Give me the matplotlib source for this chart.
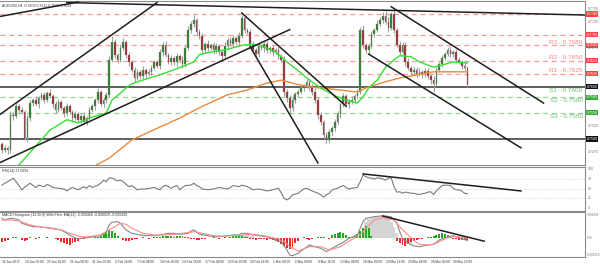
import matplotlib.pyplot as plt

plt.rcParams['font.family'] = ['Liberation Sans', 'DejaVu Sans']

# ---------------- data (AUDUSD H4, bars merged in pairs) ----------------
first_open = 0.7490
closes = [
    0.7479, 0.7483, 0.7479, 0.7546, 0.7544, 0.7563, 0.7556, 0.7552, 0.7502, 0.7540,
    0.7569, 0.7575, 0.7567, 0.7579, 0.7585, 0.7575, 0.7588, 0.7583, 0.7567, 0.7556,
    0.7571, 0.7560, 0.7550, 0.7563, 0.7552, 0.7540, 0.7548, 0.7537, 0.7544, 0.7533,
    0.7540, 0.7556, 0.7563, 0.7575, 0.7590, 0.7567, 0.7575, 0.7585, 0.7652, 0.7687,
    0.7662, 0.7652, 0.7675, 0.7687, 0.7662, 0.7648, 0.7633, 0.7617, 0.7629, 0.7621,
    0.7633, 0.7625, 0.7629, 0.7637, 0.7648, 0.7640, 0.7667, 0.7681, 0.7662, 0.7648,
    0.7656, 0.7648, 0.7660, 0.7652, 0.7644, 0.7675, 0.7710, 0.7721, 0.7729, 0.7706,
    0.7698, 0.7671, 0.7683, 0.7675, 0.7681, 0.7671, 0.7679, 0.7667, 0.7660, 0.7679,
    0.7690, 0.7683, 0.7694, 0.7687, 0.7698, 0.7733, 0.7710, 0.7706, 0.7683, 0.7671,
    0.7663, 0.7679, 0.7675, 0.7683, 0.7671, 0.7675, 0.7667, 0.7671, 0.7660, 0.7652,
    0.7590, 0.7579, 0.7560, 0.7575, 0.7587, 0.7590, 0.7598, 0.7602, 0.7610, 0.7602,
    0.7590, 0.7575, 0.7546, 0.7533, 0.7508, 0.7498, 0.7513, 0.7521, 0.7533, 0.7548,
    0.7567, 0.7583, 0.7567, 0.7571, 0.7575, 0.7583, 0.7590, 0.7710, 0.7681, 0.7671,
    0.7679, 0.7702, 0.7710, 0.7721, 0.7729, 0.7737, 0.7725, 0.7713, 0.7740, 0.7710,
    0.7681, 0.7667, 0.7681, 0.7648, 0.7637, 0.7629, 0.7633, 0.7625, 0.7629, 0.7625,
    0.7631, 0.7621, 0.7613, 0.7606, 0.7633, 0.7644, 0.7656, 0.7663, 0.7671, 0.7663,
    0.7667, 0.7652, 0.7648, 0.7640, 0.7637, 0.7604,
]
# wick lengths beyond the body, in pips
wick_hi = [
    4, 6, 3, 8, 5, 7, 4, 5, 3, 6,
    5, 4, 7, 3, 6, 5, 4, 8, 3, 5,
    6, 4, 3, 7, 5, 4, 6, 3, 5, 8,
    4, 6, 5, 3, 7, 4, 5, 6, 8, 10,
    5, 4, 7, 6, 3, 5, 4, 6, 5, 3,
    7, 4, 5, 6, 4, 3, 6, 5, 7, 4,
    5, 3, 6, 4, 8, 5, 7, 6, 9, 4,
    6, 5, 4, 7, 3, 5, 6, 4, 5, 7,
    4, 6, 5, 3, 8, 5, 5, 4, 6, 5,
    3, 7, 4, 5, 6, 4, 5, 3, 6, 4,
    8, 6, 5, 7, 4, 6, 5, 3, 5, 6,
    4, 7, 5, 6, 4, 5, 7, 4, 6, 5,
    3, 6, 4, 5, 7, 4, 6, 6, 8, 4,
    5, 6, 4, 7, 5, 6, 8, 9, 4, 5,
    4, 7, 6, 5, 8, 4, 6, 5, 7, 4,
    6, 5, 4, 7, 5, 3, 6, 4, 5, 7,
    4, 6, 5, 3, 7, 4,
]
wick_lo = [
    6, 4, 7, 5, 8, 4, 6, 5, 4, 7,
    5, 6, 4, 8, 5, 6, 4, 5, 7, 6,
    4, 5, 8, 6, 5, 7, 4, 6, 8, 5,
    6, 4, 5, 7, 6, 4, 5, 6, 4, 5,
    7, 6, 4, 5, 6, 7, 5, 8, 4, 6,
    5, 7, 4, 6, 5, 4, 6, 7, 5, 4,
    6, 5, 7, 4, 8, 5, 4, 6, 5, 7,
    6, 8, 5, 6, 4, 7, 5, 6, 8, 5,
    6, 4, 7, 5, 6, 4, 6, 5, 7, 6,
    5, 6, 4, 8, 5, 6, 7, 4, 6, 5,
    7, 8, 10, 6, 5, 7, 4, 6, 5, 7,
    6, 5, 8, 7, 6, 6, 5, 7, 6, 5,
    8, 6, 5, 7, 4, 6, 5, 4, 6, 5,
    7, 4, 6, 5, 4, 6, 5, 7, 4, 6,
    5, 6, 4, 7, 5, 6, 4, 6, 5, 7,
    6, 5, 7, 16, 5, 4, 6, 5, 4, 6,
    5, 7, 4, 6, 5, 4,
]

green_ma_idx = [6, 17, 23, 27, 32, 37, 39, 42, 44, 46, 51, 56, 63, 68, 70, 74, 79, 86, 91,
                97, 101, 106, 109, 113, 118, 122, 126, 128, 130, 133, 136, 139, 141, 145,
                148, 153, 156, 160, 165]
green_ma = [0.7450, 0.7517, 0.7537, 0.7531, 0.7542, 0.7550, 0.7575, 0.7588, 0.7598, 0.7606,
            0.7615, 0.7623, 0.7637, 0.7648, 0.7662, 0.7667, 0.7671, 0.7681, 0.7681,
            0.7667, 0.7648, 0.7627, 0.7613, 0.7598, 0.7583, 0.7575, 0.7569, 0.7581, 0.7598,
            0.7613, 0.7638, 0.7652, 0.7660, 0.7658, 0.7648, 0.7638, 0.7642, 0.7648, 0.7646]
orange_ma_idx = [30, 38, 46, 56, 63, 70, 80, 87, 93, 99, 104, 109, 120, 126, 129, 136, 141,
                 153, 165]
orange_ma = [0.7440, 0.7463, 0.7498, 0.7523, 0.7540, 0.7560, 0.7585, 0.7594, 0.7606, 0.7613,
             0.7606, 0.7600, 0.7594, 0.7590, 0.7598, 0.7610, 0.7617, 0.7629, 0.7629]

red_levels = [0.7740, 0.7700, 0.7680, 0.7650, 0.7625]
green_levels = [0.7580, 0.7550]
black_levels = [0.7600, 0.7500]
pivot_names = ["R3", "R2", "R1", "S1", "S2", "S3"]
pivot_values = [0.7680, 0.7650, 0.7625, 0.7600, 0.7580, 0.7550]
price_ticks = [0.7750, 0.7725, 0.7675, 0.7525, 0.7475]

# trendlines: (bar, price) -> (bar, price)
trendlines = [
    ((-1, 0.7735), (27, 0.7763)),
    ((23, 0.7762), (207, 0.7738)),
    ((-1, 0.7546), (55, 0.7762)),
    ((-1, 0.7454), (102, 0.7710)),
    ((88, 0.7677), (112, 0.7454)),
    ((85, 0.7742), (122, 0.7563)),
    ((138, 0.7754), (192, 0.7569)),
    ((130, 0.7663), (184, 0.7483)),
]

rsi_idx = [0, 1, 3, 4, 5, 6, 7, 9, 10, 11, 12, 13, 15, 16, 17, 18, 20, 22, 23, 24, 25, 27,
           28, 29, 30, 31, 32, 34, 35, 36, 37, 38, 39, 41, 42, 43, 44, 45, 46, 48, 49, 51,
           54, 56, 57, 58, 60, 61, 62, 63, 64, 65, 67, 68, 69, 70, 71, 73, 75, 77, 80, 82,
           84, 85, 87, 89, 91, 94, 96, 98, 99, 100, 101, 102, 103, 105, 106, 107, 108, 109,
           110, 112, 113, 114, 115, 116, 117, 119, 120, 121, 122, 123, 124, 126, 127, 128,
           129, 130, 131, 132, 133, 134, 135, 136, 137, 138, 139, 140, 141, 142, 143, 144,
           145, 146, 147, 148, 149, 150, 151, 152, 153, 154, 155, 156, 157, 158, 159, 160,
           161, 162, 163, 164, 165]
rsi_val = [59, 64, 72, 77, 68, 58, 47, 59, 64, 58, 53, 59, 55, 61, 58, 53, 51, 49, 44, 49,
           53, 47, 51, 55, 51, 58, 53, 59, 64, 72, 68, 78, 77, 70, 72, 68, 61, 55, 58, 47,
           49, 49, 53, 47, 55, 59, 51, 55, 58, 47, 53, 58, 59, 64, 58, 55, 49, 47, 49, 53,
           49, 58, 55, 59, 55, 47, 49, 44, 47, 51, 39, 25, 21, 25, 34, 38, 44, 49, 51, 47,
           44, 38, 34, 28, 34, 38, 47, 51, 55, 58, 53, 49, 51, 53, 68, 85,
           81, 78, 77, 75, 78, 77, 75, 72, 77, 78, 55, 41, 42, 38, 41, 40,
           38, 38, 36, 35, 37, 38, 41, 42, 35, 44, 51, 58, 59, 59, 58, 51,
           47, 47, 44, 38, 37]
rsi_trend = ((128, 88), (184, 44))
rsi_levels = [75, 50, 25]

# MACD values in units of 0.0001
macd_idx = [0, 1, 3, 5, 6, 7, 9, 11, 13, 16, 18, 21, 23, 25, 27, 28, 30, 32, 35, 37, 38, 39,
            41, 42, 43, 44, 46, 49, 51, 54, 56, 59, 61, 63, 66, 67, 68, 69, 70, 73, 75, 77,
            80, 82, 84, 85, 87, 89, 91, 94, 96, 99, 101, 102, 103, 105, 106, 109, 113, 115,
            117, 121, 123, 126, 127, 128, 129, 132, 135, 138, 140, 141, 142, 144, 146, 148,
            151, 153, 155, 158, 160, 162, 165]
macd_val = [36.8, 33.7, 36.8, 35.5, 33.7, 27.5, 24.3, 21.1, 21.1, 19.3, 18.1, 15, 8.8, 2.4,
            -1.9, -0.6, 0.6, 2.4, 5.6, 11.8, 24.3, 29.4, 30.5, 27.5, 21.1, 15, 8.8, 5.6, 4.3,
            4.3, 5.6, 8.8, 8.8, 6.9, 8.8, 13.1, 15, 11.8, 6.9, 4.3, 2.4, 2.4, 4.3, 5.6, 5.6,
            8.8, 8.8, 5.6, 4.3, 2.4, -1.9, -6.9, -22.4, -31.8, -33.1, -28.6, -24.3, -13.1,
            -19.3, -25.6, -19.3, -8.0, -0.6, 5.6, 18.1, 30.5, 36.8, 39.8, 41.7, 39.8, 27.5,
            11.8, -0.6, -9.9, -15, -16.3, -13.1, -11.8, -3.7, 2.4, 4.3, 0.6, -4.7]
signal_idx = [0, 3, 6, 10, 13, 17, 21, 24, 28, 31, 35, 38, 42, 44, 46, 50, 54, 57, 61, 64, 68,
              71, 75, 78, 82, 85, 89, 93, 96, 100, 102, 105, 106, 109, 113, 116, 120, 123,
              127, 129, 132, 135, 139, 141, 144, 146, 148, 151, 153, 155, 158, 160, 162, 165]
signal_val = [33.7, 33.7, 31.8, 24.3, 21.1, 18.1, 15, 8.8, 2.4, 2.4, 5.6, 15, 27.5, 25.6, 18.1,
              8.8, 5.6, 5.6, 6.9, 8.8, 11.8, 8.8, 4.3, 3.7, 4.3, 5.6, 6.9, 4.3, 0.6, -5.6,
              -16.3, -24.3, -22.4, -16.3, -16.3, -22.4, -16.3, -5.6, 5.6, 18.1, 33.7, 38,
              33.7, 21.1, 5.6, -3.7, -11.8, -13.1, -11.8, -6.9, 0.6, 2.4, 2.4, -0.3]
hist = [
    -7, -6, -4, 0, 2, 2, 0, -3, -5, -4,
    1, 0, -1, 1, 0, 0, 1, 0, 0, -1,
    -4, -7, -9, -12, -13, -10, -8, -5, -2, -1,
    0, 1, 0, 1, 2, 4, 8, 12, 15, 13,
    9, 3, 0, -3, -5, -6, -4, -2, -1, 0,
    1, 0, -1, 0, 1, 2, 2, 3, 3, 4,
    3, 2, 3, 4, 3, 2, 1, -1, -2, -3,
    -3, -2, -1, 0, 0, 1, 0, -1, 0, 1,
    0, 2, 3, 4, 4, 3, 2, 1, -1, -2,
    -3, -2, -1, -2, -3, -2, -4, -6, -8, -12,
    -15, -18, -20, -16, -10, -5, 0, 2, -2, -4,
    -2, 0, 1, 2, 1, 0, -1, 5, 8, 10,
    11, 9, 6, 2, 1, 3, 8, 14, 18, 22,
    18, 4, 0, 0, 0, 0, 0, 0, 0, 0,
    -5, -10, -14, -15, -12, -8, -5, -3, -2, -1,
    0, 1, 2, 4, 6, 8, 9, 8, 6, 3,
    -1, -2, -3, -3, -4, -4,
]
grey_idx = [29, 30, 31, 32, 33, 34, 35, 36, 37,
            84, 85, 86, 87, 88, 89,
            129, 130, 131, 132, 133, 134, 135, 136, 137, 138, 139, 140, 141, 142, 143, 144, 145]
grey_val = [1, 1, 2, 2, 3, 4, 5, 6, 8,
            4, 6, 6, 5, 4, 3,
            30, 35, 38, 40, 42, 42, 40, 38, 36, 30, 20, 10, -2, -6, -8, -10, -12]
macd_trend = ((135, 41), (171, -6))
macd_ticks = [(43.0, "0.004296"), (0.0, "0.00"), (-32.0, "-0.003258")]

date_labels = ["16 Jan 2017", "19 Jan 00:00", "23 Jan 16:00", "26 Jan 08:00", "31 Jan 00:00",
               "2 Feb 16:00", "7 Feb 08:00", "10 Feb 00:00", "14 Feb 16:00", "17 Feb 08:00",
               "22 Feb 00:00", "24 Feb 16:00", "1 Mar 08:00", "6 Mar 00:00", "8 Mar 16:00",
               "13 Mar 08:00", "16 Mar 00:00", "20 Mar 16:00", "23 Mar 08:00", "28 Mar 00:00",
               "30 Mar 16:00"]
label_step = 8

# ---------------- figure ----------------
W, H = 600, 268
fig = plt.figure(figsize=(W / 100, H / 100), dpi=100)
fig.patch.set_facecolor('white')


def panel(top, bottom):
    return fig.add_axes([0, 1 - bottom / H, 585 / W, (bottom - top) / H])


ax = panel(1, 165)
ax_rsi = panel(167, 211)
ax_macd = panel(212, 257)

for a in (ax, ax_rsi, ax_macd):
    a.set_xlim(-0.7, 206.7)
    a.set_xticks([])
    a.set_yticks([])
    for s in a.spines.values():
        s.set_color('#8a8a8a')
        s.set_linewidth(0.8)
    a.spines['left'].set_visible(False)

# ---- main panel ----
ax.set_ylim(0.7450, 0.7765)
lab = ax.get_yaxis_transform()

for lv in red_levels:
    ax.axhline(lv, color='#ff9a9a', lw=0.9, dashes=(4, 3), zorder=1)
    ax.text(1.003, lv, f"{lv:.4f}", transform=lab, fontsize=2.6, color='white', va='center',
            ha='left', clip_on=False,
            bbox=dict(boxstyle='square,pad=0.15', fc='#ff4040', ec='none'))
for lv in green_levels:
    ax.axhline(lv, color='#9ccf9c', lw=0.9, dashes=(4, 3), zorder=1)
    ax.text(1.003, lv, f"{lv:.4f}", transform=lab, fontsize=2.6, color='white', va='center',
            ha='left', clip_on=False,
            bbox=dict(boxstyle='square,pad=0.15', fc='#2fae2f', ec='none'))
for lv in black_levels:
    ax.axhline(lv, color='#333333', lw=1.1, zorder=1)
    ax.text(1.003, lv, f"{lv:.4f}", transform=lab, fontsize=2.6, color='white', va='center',
            ha='left', clip_on=False,
            bbox=dict(boxstyle='square,pad=0.15', fc='#111111', ec='none'))
for lv in price_ticks:
    ax.text(1.005, lv, f"{lv:.4f}", transform=lab, fontsize=2.6, color='#777777',
            va='center', ha='left', clip_on=False)

for name, val in zip(pivot_names, pivot_values):
    res = name.startswith('R')
    ax.text(0.996, val + (0.00012 if res else -0.00012), f"{name} - {val:.4f}",
            transform=lab, ha='right', va='bottom' if res else 'top', fontsize=4.6,
            color='#ff8080' if res else '#66c266', zorder=3)

n = len(closes)
bars = list(range(n))
opens = [first_open] + closes[:-1]
highs = [max(o, c) + w * 0.0001 for o, c, w in zip(opens, closes, wick_hi)]
lows = [min(o, c) - w * 0.0001 for o, c, w in zip(opens, closes, wick_lo)]
body_col = ['#2a7d2a' if c >= o else '#9b2a2a' for o, c in zip(opens, closes)]

ax.vlines(bars, lows, highs, color='#a0a0a0', lw=0.8, zorder=3)
ax.bar(bars, [c - o for o, c in zip(opens, closes)], bottom=opens, width=0.6,
       color=body_col, edgecolor='#8c8c8c', linewidth=0.25, zorder=4)

ax.plot(orange_ma_idx, orange_ma, color='#ec8a3c', lw=1.0, zorder=5)
ax.plot(green_ma_idx, green_ma, color='#35e035', lw=1.0, zorder=5)

for (x0, y0), (x1, y1) in trendlines:
    ax.plot([x0, x1], [y0, y1], color='#1e1e1e', lw=1.1, zorder=6)

ax.text(0.004, 0.985, "AUDUSD,H4  0.7609 0.7611 0.7600 0.7604", transform=ax.transAxes,
        fontsize=2.6, color='#333333', va='top', ha='left')

# ---- RSI panel ----
ax_rsi.set_ylim(-7.8, 105.9)
for lv in rsi_levels:
    ax_rsi.axhline(lv, color='#c8c8c8', lw=0.5, ls=(0, (1, 1.5)))
ax_rsi.plot(rsi_idx, rsi_val, color='#7a7a7a', lw=0.8)
ax_rsi.plot([rsi_trend[0][0], rsi_trend[1][0]], [rsi_trend[0][1], rsi_trend[1][1]],
            color='#1e1e1e', lw=1.1)
ax_rsi.text(0.004, 0.96, "RSI(14) 37.0292", transform=ax_rsi.transAxes, fontsize=2.6,
            color='#333333', va='top', ha='left')
for lv in [100] + rsi_levels + [0]:
    ax_rsi.text(1.005, lv, str(lv), transform=ax_rsi.get_yaxis_transform(), fontsize=2.6,
                color='#777777', va='center', ha='left', clip_on=False)

# ---- MACD panel ----
ax_macd.set_ylim(-35.5, 48.6)
ax_macd.bar(grey_idx, grey_val, width=1.0, color='#d4d4d4', zorder=1)
ax_macd.bar(bars, hist, width=0.7,
            color=['#23a823' if h > 0 else '#f02a2a' for h in hist], zorder=2)
ax_macd.plot(macd_idx, macd_val, color='#888888', lw=0.8, zorder=3)
ax_macd.plot(signal_idx, signal_val, color='#ff8a8a', lw=0.8, zorder=3)
ax_macd.plot([macd_trend[0][0], macd_trend[1][0]], [macd_trend[0][1], macd_trend[1][1]],
             color='#1e1e1e', lw=1.1, zorder=4)
ax_macd.text(0.004, 0.97,
             "MACD Histogram (12,26,9) With Filter MA(12) -0.000468 -0.000029 -0.000439",
             transform=ax_macd.transAxes, fontsize=2.6, color='#333333', va='top', ha='left')
for v, t in macd_ticks:
    ax_macd.text(1.003, v, t, transform=ax_macd.get_yaxis_transform(), fontsize=2.2,
                 color='#777777', va='center', ha='left', clip_on=False)

for k, lbl in enumerate(date_labels):
    ax_macd.text(k * label_step, -0.12, lbl, transform=ax_macd.get_xaxis_transform(),
                 fontsize=2.3, color='#333333', va='center', ha='left', clip_on=False)

fig.savefig('out.png', dpi=100, facecolor='white')
